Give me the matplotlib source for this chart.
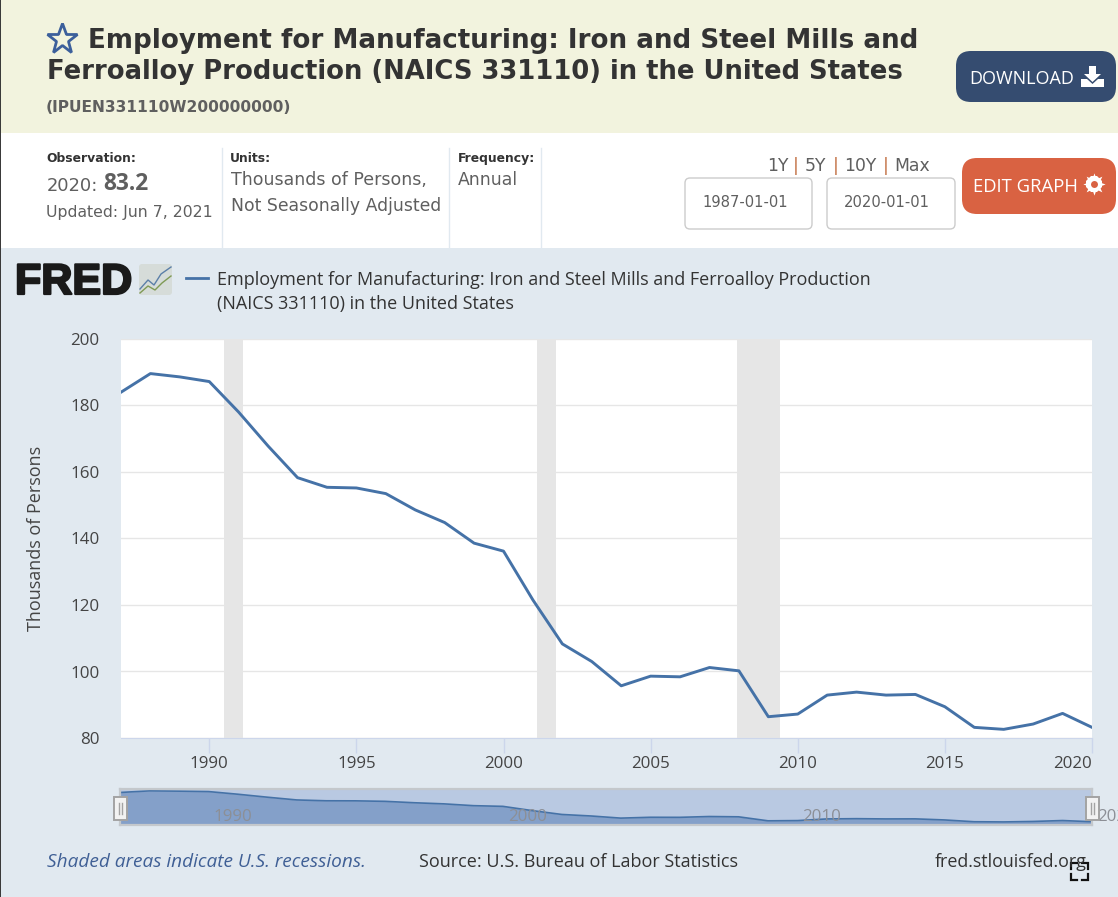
"""FRED series page: iron and steel mills employment, annual."""

import matplotlib
matplotlib.use("Agg")
import matplotlib.pyplot as plt
from matplotlib.patches import FancyBboxPatch, Rectangle, Polygon
import matplotlib.patheffects as pe

# -----------------------------------------------------------------------------
# data
# -----------------------------------------------------------------------------
years = list(range(1987, 2021))
employment = [184.0, 189.6, 188.6, 187.2, 178.0, 167.8, 158.3, 155.4, 155.2, 153.5,
              148.6, 144.8, 138.6, 136.2, 121.5, 108.3, 103.0, 95.7, 98.6, 98.4,
              101.2, 100.2, 86.4, 87.2, 92.9, 93.8, 92.9, 93.1, 89.4, 83.2,
              82.6, 84.2, 87.4, 83.2]
recession_start = [1990.5, 2001.14, 2007.95]
recession_end = [1991.14, 2001.8, 2009.38]
y_ticks = [80, 100, 120, 140, 160, 180, 200]
x_ticks = [1990, 1995, 2000, 2005, 2010, 2015, 2020]
nav_ticks = [1990, 2000, 2010, 2020]

series_title = ["Employment for Manufacturing: Iron and Steel Mills and",
                "Ferroalloy Production (NAICS 331110) in the United States"]
legend_lines = ["Employment for Manufacturing: Iron and Steel Mills and Ferroalloy Production",
                "(NAICS 331110) in the United States"]

W, H = 1118, 897
DARK = "#333333"
GREY = "#5f5f5f"
LINE = "#4572a7"
SANS = "Open Sans"
VERD = "DejaVu Sans"

fig = plt.figure(figsize=(W / 100, H / 100), dpi=100, facecolor="white")


def px_axes(x0, y0, x1, y1):
    """axes from pixel box, y counted from the top of the image"""
    return fig.add_axes([x0 / W, 1 - y1 / H, (x1 - x0) / W, (y1 - y0) / H])


# page background in pixel coordinates
bg = fig.add_axes([0, 0, 1, 1])
bg.set_xlim(0, W)
bg.set_ylim(H, 0)
bg.axis("off")


def box(x0, y0, x1, y1, color, edge="none", lw=0, radius=0):
    if radius:
        p = FancyBboxPatch((x0 + radius, y0 + radius), x1 - x0 - 2 * radius, y1 - y0 - 2 * radius,
                           boxstyle=f"round,pad={radius},rounding_size={radius}",
                           fc=color, ec=edge, lw=lw)
    else:
        p = Rectangle((x0, y0), x1 - x0, y1 - y0, fc=color, ec=edge, lw=lw)
    bg.add_patch(p)


def label(x, y, s, size, color=GREY, family=VERD, ha="left", **kw):
    bg.text(x, y, s, fontsize=size, color=color, family=family, ha=ha, va="baseline", **kw)


box(0, 0, W, 133, "#f2f3de")
box(0, 248, W, H, "#e1e9f0")
box(0, 0, 1.2, H, "#3a3a3a")

# -- header
bg.plot([62], [39], marker="*", ms=23, mfc="none", mec="#3c5f9b", mew=2)
label(88, 48, series_title[0], 18.77, DARK, fontweight="bold")
label(47, 79, series_title[1], 18.62, DARK, fontweight="bold")
label(46, 112, "(IPUEN331110W200000000)", 11.2, GREY, fontweight="bold")

box(956, 51, 1116, 102, "#354c70", radius=15)
label(969, 84, "DOWNLOAD", 13, "white", SANS)
bg.add_patch(Polygon([(1089, 66), (1096, 66), (1096, 74), (1101, 74), (1092.5, 82), (1084, 74), (1089, 74)],
                     fc="white", ec="none"))
bg.add_patch(Polygon([(1081, 79), (1087, 79), (1092.5, 84), (1098, 79), (1104, 79), (1104, 87), (1081, 87)],
                     fc="white", ec="none"))

# -- meta row
for x in [222, 449, 541]:
    bg.plot([x, x], [148, 248], color="#e1e9f0", lw=1)

label(46, 162, "Observation:", 8.9, DARK, fontweight="semibold")
label(47, 191, "2020:", 12.9)
label(103, 189.5, "83.2", 16.4, GREY, SANS, fontweight="bold")
label(46, 217, "Updated: Jun 7, 2021", 11.3)
label(230, 162, "Units:", 8.9, DARK, fontweight="semibold")
label(231, 185, "Thousands of Persons,", 12.5)
label(231, 211, "Not Seasonally Adjusted", 12.4)
label(458, 162, "Frequency:", 8.9, DARK, fontweight="semibold")
label(458, 185, "Annual", 12.4)

label(767, 171, "1Y", 12.4)
label(793, 171, "|", 12.4, "#c06a3c")
label(805, 171, "5Y", 12.4)
label(833, 171, "|", 12.4, "#c06a3c")
label(844, 171, "10Y", 12.4)
label(883, 171, "|", 12.4, "#c06a3c")
label(894, 171, "Max", 12.4)

box(685, 178, 812, 229, "white", "#cccccc", 1, radius=5)
box(827, 178, 955, 229, "white", "#cccccc", 1, radius=5)
label(702, 207, "1987-01-01", 10.6)
label(844, 207, "2020-01-01", 10.6)

box(962, 158, 1116, 214, "#d96242", radius=15)
label(973, 192, "EDIT GRAPH", 13.3, "white", SANS)
# filled gear
bg.plot([1094], [184], marker="8", ms=12.5, color="white", mew=0)
bg.plot([1094], [184], marker=(8, 1, 0), ms=16, color="white", mew=0)
bg.plot([1094], [184], marker="o", ms=5, color="#d96242", mew=0)

# -- FRED logo and legend
bg.text(15, 294, "FRED", fontsize=31, color="#1a1a1a", family="Liberation Sans", fontweight="bold",
        path_effects=[pe.withStroke(linewidth=1.6, foreground="#1a1a1a")])
box(139, 264, 172, 295, "#d6dcd9", radius=3)
bg.plot([140, 148, 154, 161, 171], [289, 280, 285, 274, 267], color="#5b7fa8", lw=1)
bg.plot([140, 148, 155, 162, 171], [293, 286, 290, 283, 276], color="#7f9a55", lw=1)

bg.plot([186, 208], [278, 278], color=LINE, lw=2)
label(217, 285, legend_lines[0], 12.97, DARK, SANS)
label(217, 309, legend_lines[1], 12.97, DARK, SANS)

# -- footer
label(47, 867, "Shaded areas indicate U.S. recessions.", 13.7, "#3f5f95", SANS, style="italic")
label(419, 867, "Source: U.S. Bureau of Labor Statistics", 12.95, DARK, SANS)
label(1087, 867, "fred.stlouisfed.org", 12.9, DARK, SANS, ha="right")

# fullscreen corners
for cx, cy, dx, dy in [(1071, 863, 1, 1), (1088, 863, -1, 1), (1071, 880, 1, -1), (1088, 880, -1, -1)]:
    bg.plot([cx + 6 * dx, cx, cx], [cy, cy, cy + 6 * dy], color="#111111", lw=1.6, solid_joinstyle="miter")

# -----------------------------------------------------------------------------
# main chart
# -----------------------------------------------------------------------------
ax = px_axes(121, 339, 1092, 738)
ax.set_facecolor("white")
ax.set_xlim(years[0], years[-1])
ax.set_ylim(80, 200)

for start, end in zip(recession_start, recession_end):
    ax.axvspan(start, end, color="#e6e6e6", lw=0, zorder=1)
ax.plot(years, employment, color=LINE, lw=2.1, zorder=3)

ax.set_yticks(y_ticks)
ax.set_xticks(x_ticks)
ax.yaxis.grid(True, color="#e6e6e6", lw=1, zorder=2)
ax.set_axisbelow(False)
ax.tick_params(axis="y", length=0, pad=15.5, labelsize=12.2, labelcolor="#444444")
ax.tick_params(axis="x", length=11, width=1, color="#ccd6eb", pad=2, labelsize=12.2, labelcolor="#444444")
for t in ax.get_xticklabels() + ax.get_yticklabels():
    t.set_family(SANS)
ax.get_xticklabels()[-1].set_ha("right")
for name in ["top", "left", "right"]:
    ax.spines[name].set_visible(False)
ax.spines["bottom"].set_color("#ccd6eb")
ax.set_ylabel("Thousands of Persons", fontsize=13, color="#444444", family=SANS, labelpad=18)

# -----------------------------------------------------------------------------
# navigator under the chart
# -----------------------------------------------------------------------------
nav = px_axes(120, 789, 1092, 825)
nav.set_facecolor("#b9c9e2")
nav.set_xlim(years[0], years[-1])
nav.set_ylim(72, 196)
nav.fill_between(years, employment, 72, color="#84a0c9", lw=0)
nav.plot(years, employment, color=LINE, lw=1.2)
nav.set_xticks([])
nav.set_yticks([])
for s in nav.spines.values():
    s.set_color("#c4c8cc")
    s.set_linewidth(1.6)
for yr in nav_ticks:
    nav.annotate(str(yr), (yr, 0), xycoords=("data", "axes fraction"), xytext=(3.6, 3), textcoords="offset points",
                 fontsize=12.2, color="#8c8f96", family=SANS, annotation_clip=False)

# handles sit over the navigator, so they go on a top layer
top = fig.add_axes([0, 0, 1, 1], facecolor="none")
top.set_xlim(0, W)
top.set_ylim(H, 0)
top.axis("off")
for x0 in [114, 1086]:
    top.add_patch(Rectangle((x0, 797), 13, 23, fc="#f2f2f2", ec="#a3a3a3", lw=1.4))
    top.plot([x0 + 5, x0 + 5], [803, 814], color="#a3a3a3", lw=1)
    top.plot([x0 + 8, x0 + 8], [803, 814], color="#a3a3a3", lw=1)

fig.savefig("out.png", dpi=100)
